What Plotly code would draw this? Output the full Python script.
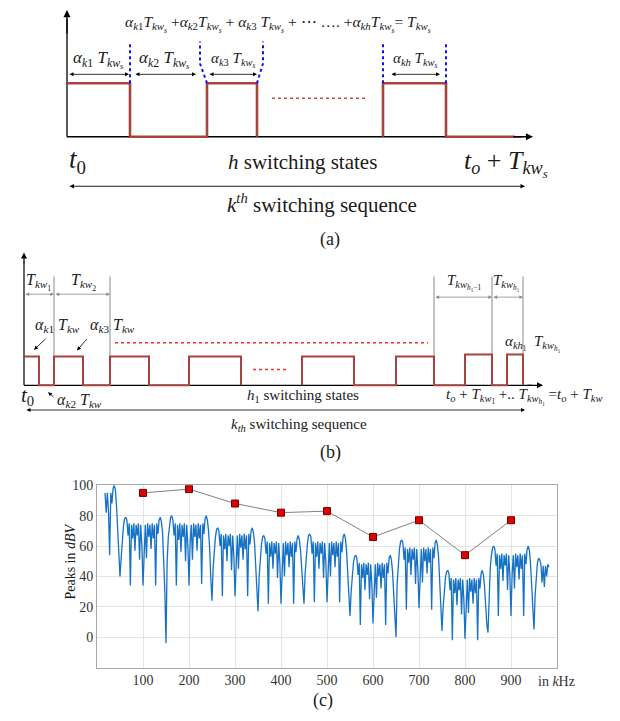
import plotly.graph_objects as go

W, H = 620, 721
SERIF = "Liberation Serif, Times New Roman, serif"

# ---------------- panel (a) data: switching pulses (time units) ----------------
a_t1 = [0, 6.3, 14.0, 19.0]
a_lv1 = [1, 0, 1, 0]
a_t2 = [31.6, 31.6, 37.9, 44.8]
a_lv2 = [0, 1, 0, 0]
a_dashed_edges = [6.3, 31.6, 37.9]

# ---------------- panel (b) data ----------------
b_t1 = [0, 1.5, 3.0, 5.9, 8.6, 12.5, 16.5, 21.7]
b_lv1 = [1, 0, 1, 0, 1, 0, 1, 0]
b_t2 = [27.8, 27.8, 33.0, 37.2, 41.0, 44.1, 46.8, 48.3, 49.9]
b_lv2 = [0, 1, 0, 1, 0, 1.07, 0, 1.07, 0]
b_period_marks_left = [3.0, 8.6]
b_period_marks_right = [41.0, 46.8, 49.9]

# ---------------- panel (c) data: spectrum (kHz, dBV) ----------------
spec_step = 2.5
seg0_start = 17.5
seg0 = [95, 82, 95, 83, 54, 95, 88, 98, 100, 97, 86, 70, 54]
seg_starts = [50, 150, 250, 350, 450, 550, 650, 750, 850]
seg1 = [40, 52, 64, 73, 78, 79, 77, 67, 75, 34, 74, 65, 75, 57, 74, 67, 75, 51, 74, 61,
        34, 62, 74, 52, 75, 66, 74, 58, 75, 65, 74, 34, 75, 68, 77, 79, 76, 69, 54, 30]
seg2 = [-4, 50, 66, 74, 79, 80, 77, 67, 75, 34, 74, 64, 75, 56, 74, 66, 75, 50, 74, 61,
        34, 62, 74, 51, 75, 66, 74, 57, 75, 65, 74, 35, 75, 68, 78, 80, 77, 70, 58, 38]
seg3 = [24, 46, 58, 66, 71, 72, 70, 60, 68, 27, 67, 58, 68, 50, 67, 60, 68, 44, 67, 54,
        27, 55, 67, 45, 68, 59, 67, 51, 68, 58, 67, 27, 68, 61, 70, 72, 69, 62, 48, 30]
seg4 = [17, 40, 53, 61, 66, 67, 65, 55, 63, 22, 62, 53, 63, 45, 62, 55, 63, 39, 62, 49,
        22, 50, 62, 40, 63, 54, 62, 46, 63, 53, 62, 22, 63, 56, 65, 67, 64, 57, 44, 30]
seg5 = [22, 42, 55, 62, 67, 68, 66, 55, 63, 23, 62, 53, 63, 45, 62, 55, 63, 39, 62, 49,
        23, 50, 62, 40, 63, 54, 62, 46, 63, 53, 62, 23, 63, 56, 66, 68, 65, 57, 42, 26]
seg6 = [14, 30, 41, 49, 53, 54, 52, 41, 49, 8, 48, 39, 49, 31, 48, 41, 49, 25, 48, 35,
        9, 36, 48, 26, 49, 40, 48, 32, 49, 39, 48, 8, 49, 42, 52, 54, 51, 43, 28, 12]
seg7 = [0, 35, 50, 58, 63, 64, 62, 51, 59, 18, 58, 49, 59, 41, 58, 51, 59, 35, 58, 45,
        19, 46, 58, 36, 59, 50, 58, 42, 59, 49, 58, 18, 59, 52, 62, 64, 61, 53, 38, 18]
seg8 = [4, 20, 31, 39, 43, 44, 42, 31, 39, -2, 38, 29, 39, 21, 38, 31, 39, 15, 38, 25,
        -1, 26, 38, 16, 39, 30, 38, 22, 39, 29, 38, -2, 39, 32, 42, 44, 41, 33, 18, 8]
seg9 = [3, 32, 46, 54, 59, 60, 58, 47, 55, 14, 54, 45, 55, 37, 54, 47, 55, 31, 54, 41,
        14, 42, 54, 32, 55, 46, 54, 38, 55, 45, 54, 14, 55, 48, 58, 60, 57, 48, 30, 12]
seg10_start = 950
seg10 = [5, 28, 42, 49, 52, 51, 48, 36, 47, 33, 47, 40, 48, 46]

peak_freq = [100, 200, 300, 400, 500, 600, 700, 800, 900]
peak_dbv = [95, 97.5, 88, 82, 83, 66, 77, 54, 77]
x_ticks = [100, 200, 300, 400, 500, 600, 700, 800, 900]
y_ticks = [0, 20, 40, 60, 80, 100]

# assemble spectrum
spec_x, spec_y = [], []
def add_seg(start, vals):
    for i, v in enumerate(vals):
        spec_x.append(start + i * spec_step)
        spec_y.append(v)
add_seg(seg0_start, seg0)
for s, v in zip(seg_starts, [seg1, seg2, seg3, seg4, seg5, seg6, seg7, seg8, seg9]):
    add_seg(s, v)
add_seg(seg10_start, seg10)

PULSE = "#A5433C"
fig = go.Figure()

# ---------- panel (a) ----------
fig.add_trace(go.Scatter(x=[0, 0, None, 0, 45.5], y=[0, 2.2, None, 0, 0], mode="lines",
                         line=dict(color="black", width=1.3), xaxis="x", yaxis="y"))
fig.add_trace(go.Scatter(x=a_t1, y=a_lv1, mode="lines", line_shape="hv",
                         line=dict(color=PULSE, width=2.6), xaxis="x", yaxis="y"))
fig.add_trace(go.Scatter(x=a_t2, y=a_lv2, mode="lines", line_shape="hv",
                         line=dict(color=PULSE, width=2.6), xaxis="x", yaxis="y"))
fig.add_trace(go.Scatter(x=[20.5, 29.9], y=[0.72, 0.72], mode="lines",
                         line=dict(color="#C0504D", width=1.6, dash="dot"), xaxis="x", yaxis="y"))
dx, dy = [], []
for e in a_dashed_edges:
    dx += [e, e, None]
    dy += [1.0, 1.78, None]
dx += [14.0, 13.3, 13.3, None, 19.0, 19.6, 19.6]
dy += [1.0, 1.37, 1.78, None, 1.0, 1.37, 1.78]
fig.add_trace(go.Scatter(x=dx, y=dy, mode="lines",
                         line=dict(color="#1010F0", width=2, dash="dot"), xaxis="x", yaxis="y"))

# ---------- panel (b) ----------
fig.add_trace(go.Scatter(x=[0, 0, None, 0, 50.8], y=[0, 4.3, None, 0, 0], mode="lines",
                         line=dict(color="black", width=1.2), xaxis="x2", yaxis="y2"))
gx, gy = [], []
for m in b_period_marks_left:
    gx += [m, m, None]
    gy += [1.0, 3.79, None]
for m in b_period_marks_right:
    gx += [m, m, None]
    gy += [1.0, 3.79, None]
fig.add_trace(go.Scatter(x=gx, y=gy, mode="lines", line=dict(color="#8a8a8a", width=1),
                         xaxis="x2", yaxis="y2"))
fig.add_trace(go.Scatter(x=b_t1, y=b_lv1, mode="lines", line_shape="hv",
                         line=dict(color=PULSE, width=2), xaxis="x2", yaxis="y2"))
fig.add_trace(go.Scatter(x=b_t2, y=b_lv2, mode="lines", line_shape="hv",
                         line=dict(color=PULSE, width=2), xaxis="x2", yaxis="y2"))
fig.add_trace(go.Scatter(x=[9.1, 40.4, None, 22.9, 26.4], y=[1.48, 1.48, None, 0.55, 0.55],
                         mode="lines", line=dict(color="#F03030", width=1.5, dash="dot"),
                         xaxis="x2", yaxis="y2"))

# ---------- panel (c) ----------
fig.add_trace(go.Scatter(x=spec_x, y=spec_y, mode="lines",
                         line=dict(color="#1672C4", width=1.3), xaxis="x3", yaxis="y3"))
fig.add_trace(go.Scatter(x=peak_freq, y=peak_dbv, mode="lines+markers",
                         line=dict(color="#808080", width=1),
                         marker=dict(symbol="square", size=7, color="#E00000",
                                     line=dict(color="#700000", width=1)),
                         xaxis="x3", yaxis="y3"))

ann = []
def txt(x, y, text, xref, yref, size, color="#1a1a1a", xanchor="center", angle=0):
    ann.append(dict(x=x, y=y, xref=xref, yref=yref, text=text, showarrow=False,
                    xanchor=xanchor, yanchor="middle", textangle=angle,
                    font=dict(family=SERIF, size=size, color=color)))

def arr(x0, y0, x1, y1, xref, yref, both=False, color="black", width=1.0, size=1.0, head=2):
    d = dict(x=x1, y=y1, ax=x0, ay=y0, xref=xref, yref=yref, axref=xref, ayref=yref,
             text="", showarrow=True, arrowhead=head, arrowsize=size, arrowwidth=width,
             arrowcolor=color)
    if both:
        d.update(arrowside="end+start", startarrowhead=head, startarrowsize=size)
    ann.append(d)

def Tk(sub):
    return "<i>T</i><sub><i>kw</i><sub>" + sub + "</sub></sub>"

# panel (a) annotations
arr(0, 1.9, 0, 2.37, "x", "y", width=1.3, size=1.1)
arr(44.5, 0, 46.6, 0, "x", "y", width=1.3, size=1.1)
for a0, a1 in [(0.1, 6.2), (6.7, 12.9), (14.1, 19.0), (32.3, 37.3)]:
    arr(a0, 1.167, a1, 1.167, "x", "y", both=True, width=0.8, size=1.0)
Ts = Tk("<i>s</i>")
txt(3.1, 1.444, "<i>α</i><sub><i>k</i>1</sub> " + Ts, "x", "y", 17)
txt(9.7, 1.444, "<i>α</i><sub><i>k</i>2</sub> " + Ts, "x", "y", 17)
txt(16.6, 1.444, "<i>α</i><sub><i>k</i>3</sub> " + Ts, "x", "y", 15)
txt(34.8, 1.444, "<i>α</i><sub><i>kh</i></sub> " + Ts, "x", "y", 15)
txt(21.1, 2.11, "<i>α</i><sub><i>k</i>1</sub>" + Ts + " +<i>α</i><sub><i>k</i>2</sub>" + Ts +
    " + <i>α</i><sub><i>k</i>3</sub> " + Ts + " + ⋯ …. +<i>α</i><sub><i>kh</i></sub>" + Ts +
    "= " + Ts, "x", "y", 15.5)
txt(1.0, -0.46, "<i>t</i><sub>0</sub>", "x", "y", 27)
txt(23.5, -0.48, "<i>h</i> switching states", "x", "y", 21)
txt(43.9, -0.5, "<i>t<sub>o</sub></i> + " + Ts, "x", "y", 26)
arr(0.1, -0.926, 45.8, -0.926, "x", "y", both=True, width=0.9, size=1.0)
txt(25.5, -1.24, "<i>k</i><sup><i>th</i></sup> switching sequence", "x", "y", 21)

# panel (b) annotations
arr(0, 4.2, 0, 4.62, "x2", "y2", width=1.2, size=1.0)
arr(50.2, 0, 51.9, 0, "x2", "y2", width=1.2, size=1.0)
for a0, a1, yy in [(0, 3.0, 3.17), (3.0, 8.6, 3.17), (41.0, 46.8, 3.07), (46.8, 49.9, 3.07)]:
    arr(a0, yy, a1, yy, "x2", "y2", both=True, color="#8a8a8a", width=0.8, size=0.9)
txt(1.4, 3.59, Tk("1"), "x2", "y2", 16)
txt(5.9, 3.59, Tk("2"), "x2", "y2", 16)
txt(44.0, 3.59, Tk("<i>h</i><sub>1</sub>−1"), "x2", "y2", 15)
txt(48.2, 3.59, Tk("<i>h</i><sub>1</sub>"), "x2", "y2", 15)
txt(3.3, 2.07, "<i>α</i><sub><i>k</i>1</sub> <i>T</i><sub><i>kw</i></sub>", "x2", "y2", 16)
txt(8.8, 2.07, "<i>α</i><sub><i>k</i>3</sub> <i>T</i><sub><i>kw</i></sub>", "x2", "y2", 16)
arr(2.3, 1.66, 1.0, 1.24, "x2", "y2", width=0.8, size=1.0)
arr(6.4, 1.66, 5.3, 1.21, "x2", "y2", width=0.8, size=1.0)
txt(50.9, 1.45, "<i>α</i><sub><i>kh</i><sub>1</sub></sub>  " + Tk("<i>h</i><sub>1</sub>"), "x2", "y2", 15)
txt(0.3, -0.38, "<i>t</i><sub>0</sub>", "x2", "y2", 21)
arr(3.1, -0.45, 2.4, -0.24, "x2", "y2", width=0.8, size=1.0)
txt(5.5, -0.52, "<i>α</i><sub><i>k</i>2</sub> <i>T</i><sub><i>kw</i></sub>", "x2", "y2", 16)
txt(27.9, -0.38, "<i>h</i><sub>1</sub> switching states", "x2", "y2", 15)
txt(50.0, -0.38, "<i>t<sub>o</sub></i> + " + Tk("1") + " +.. " + Tk("<i>h</i><sub>1</sub>") +
    " =<i>t<sub>o</sub></i> + <i>T</i><sub><i>kw</i></sub>", "x2", "y2", 15)
arr(0.1, -0.86, 50.1, -0.86, "x2", "y2", both=True, width=0.8, size=1.0)
txt(27.5, -1.38, "<i>k<sub>th</sub></i> switching sequence", "x2", "y2", 15)

# panel (c) annotations
txt(71 / W, 1 - 560 / H, "Peaks in <i>dBV</i>", "paper", "paper", 14, angle=-90)
txt(556 / W, 1 - 681 / H, "in <i>k</i>Hz", "paper", "paper", 14, color="#333")

# captions
txt(330 / W, 1 - 235 / H, "(a)", "paper", "paper", 18)
txt(331 / W, 1 - 450 / H, "(b)", "paper", "paper", 18)
txt(323 / W, 1 - 700 / H, "(c)", "paper", "paper", 18)

hidden = dict(visible=False, showgrid=False, zeroline=False, fixedrange=True)
fig.update_layout(
    width=W, height=H, margin=dict(l=0, r=0, t=0, b=0),
    paper_bgcolor="white", plot_bgcolor="rgba(0,0,0,0)", showlegend=False,
    font=dict(family=SERIF),
    annotations=ann,
    xaxis=dict(domain=[0, 1], range=[-6.7, 55.3], anchor="y", **hidden),
    yaxis=dict(domain=[1 - 240 / H, 1], range=[-2.0185, 2.4259], anchor="x", **hidden),
    xaxis2=dict(domain=[0, 1], range=[-2.4, 59.6], anchor="y2", **hidden),
    yaxis2=dict(domain=[1 - 470 / H, 1 - 240 / H], range=[-3.0345, 4.8966], anchor="x2", **hidden),
    xaxis3=dict(domain=[97 / W, 557 / W], range=[0, 1000], anchor="y3",
                tickvals=x_ticks, showgrid=True, gridcolor="#e4e4e4", zeroline=False,
                showline=True, linecolor="#a8a8a8", mirror=True, ticks="",
                tickfont=dict(family=SERIF, size=14, color="#333")),
    yaxis3=dict(domain=[1 - 667 / H, 1 - 483 / H], range=[-20, 100], anchor="x3",
                tickvals=y_ticks, showgrid=True, gridcolor="#e4e4e4", zeroline=False,
                showline=True, linecolor="#a8a8a8", mirror=True, ticks="",
                tickfont=dict(family=SERIF, size=14, color="#333")),
)
fig.write_html("out.html")
